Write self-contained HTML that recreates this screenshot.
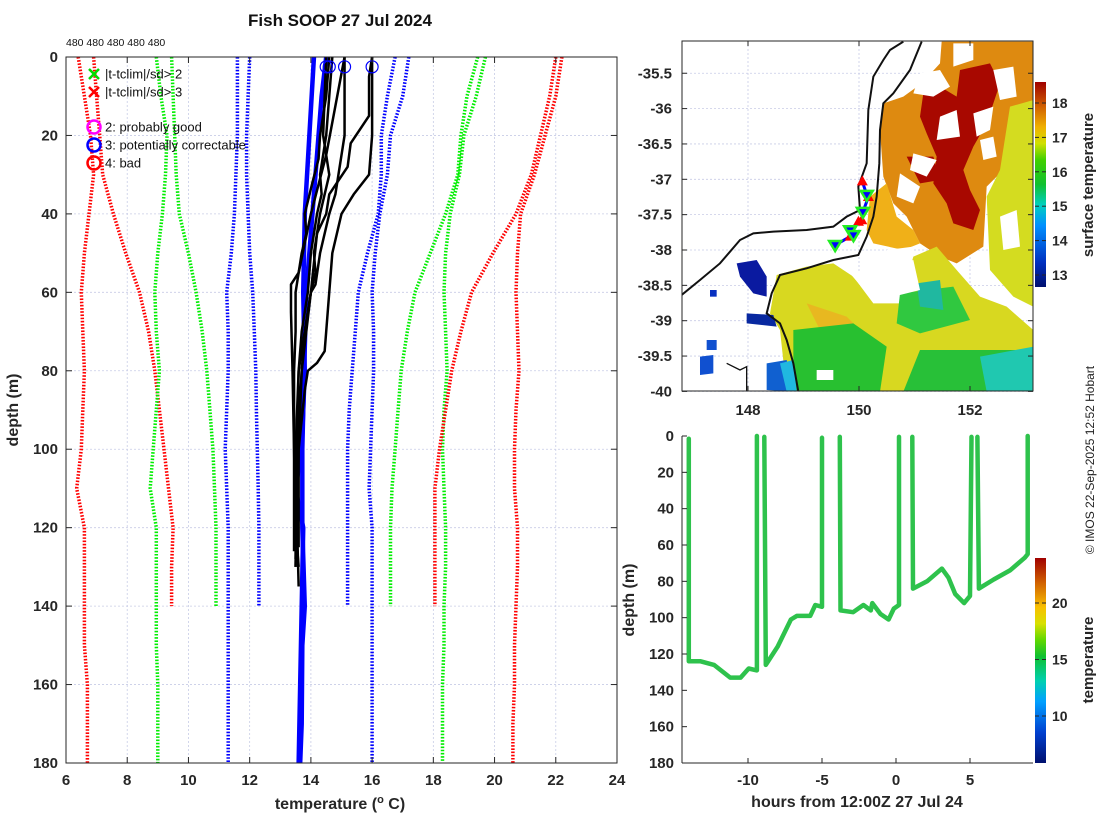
<!DOCTYPE html>
<html><head><meta charset="utf-8"><title>Fish SOOP 27 Jul 2024</title>
<style>
html,body{margin:0;padding:0;background:#fff;}
svg{display:block;font-family:"Liberation Sans","DejaVu Sans",sans-serif;}
.tk{font-size:15px;font-weight:bold;fill:#262626;}
.lab{font-size:16px;font-weight:bold;fill:#262626;}
</style></head>
<body>
<svg id="fig" width="1100" height="820" viewBox="0 0 1100 820" xmlns="http://www.w3.org/2000/svg">
<defs>
<clipPath id="clipL"><rect x="66" y="57" width="551" height="706"/></clipPath>
<clipPath id="clipM"><rect x="682" y="41" width="351" height="350"/></clipPath>
<clipPath id="clipB"><rect x="682" y="420" width="351" height="343"/></clipPath>
<linearGradient id="cb1" x1="0" y1="1" x2="0" y2="0">
<stop offset="0" stop-color="#00106e"/><stop offset="0.12" stop-color="#0030c0"/><stop offset="0.3" stop-color="#0090ff"/><stop offset="0.4" stop-color="#00d0c0"/><stop offset="0.5" stop-color="#10c030"/><stop offset="0.62" stop-color="#40d000"/><stop offset="0.7" stop-color="#d0e000"/><stop offset="0.78" stop-color="#f0b000"/><stop offset="0.88" stop-color="#d06000"/><stop offset="1" stop-color="#a00000"/>
</linearGradient>
<linearGradient id="cb2" x1="0" y1="1" x2="0" y2="0">
<stop offset="0" stop-color="#00106e"/><stop offset="0.15" stop-color="#0040d0"/><stop offset="0.3" stop-color="#00a0ff"/><stop offset="0.4" stop-color="#00d0b0"/><stop offset="0.52" stop-color="#10c030"/><stop offset="0.6" stop-color="#60d800"/><stop offset="0.68" stop-color="#d8e000"/><stop offset="0.76" stop-color="#f8c000"/><stop offset="0.88" stop-color="#d06000"/><stop offset="1" stop-color="#a00000"/>
</linearGradient>
</defs>

<text x="340" y="26" text-anchor="middle" style="font-size:17px;font-weight:bold;fill:#111">Fish SOOP 27 Jul 2024</text>
<text x="66" y="46" style="font-size:10.5px;fill:#111">480 480 480 480 480</text>

<g id="leftPlot"></g>
<g id="mapPlot"></g>
<g id="botPlot"></g>

<text transform="translate(1094,460) rotate(-90)" text-anchor="middle" style="font-size:12px;fill:#222">© IMOS 22-Sep-2025 12:52 Hobart</text>
</svg>

<script>
const NS='http://www.w3.org/2000/svg';
function mk(parent,tag,attrs,text){const e=document.createElementNS(NS,tag);for(const k in attrs)e.setAttribute(k,attrs[k]);if(text!==undefined)e.textContent=text;parent.appendChild(e);return e;}

// ===== Left plot data =====
const depthLevels=[0,10,20,30,40,50,60,70,80,90,100,110,120,130,140,150,160,170,180];
const tempTicks=[6,8,10,12,14,16,18,20,22,24];
const depthTicks=[0,20,40,60,80,100,120,140,160,180];
const redLa=[6.4,6.6,6.8,6.9,6.75,6.6,6.5,6.55,6.6,6.55,6.5,6.35,6.6,6.6,6.6,6.6,6.7,6.7,6.7];
const redLb=[6.9,7.0,7.1,7.2,7.55,7.95,8.4,8.7,8.9,9.05,9.2,9.35,9.5,9.45,9.45];
const greenLa=[8.95,9.1,9.3,9.25,9.15,9.0,8.9,8.95,9.05,8.95,8.85,8.75,8.95,8.95,8.95,8.95,9.0,9.0,9.0];
const greenLb=[9.45,9.5,9.55,9.6,9.7,10.0,10.25,10.45,10.6,10.7,10.8,10.85,10.9,10.9,10.9];
const blueLa=[11.6,11.6,11.6,11.55,11.5,11.4,11.25,11.3,11.3,11.25,11.2,11.25,11.3,11.3,11.3,11.3,11.3,11.3,11.3];
const blueLb=[12.0,11.95,11.9,11.9,11.95,12.0,12.1,12.15,12.2,12.22,12.25,12.28,12.3,12.3,12.3];
const blueRa=[16.75,16.5,16.3,16.3,16.2,15.85,15.55,15.45,15.35,15.25,15.2,15.2,15.2,15.2,15.2];
const blueRb=[17.2,17.0,16.6,16.5,16.25,16.1,16.0,16.05,16.05,16.0,15.95,15.9,16.0,16.0,16.0,16.0,16.0,16.0,16.0];
const greenRa=[19.45,19.1,18.9,18.8,18.4,17.9,17.4,17.15,16.95,16.85,16.75,16.65,16.6,16.6,16.6];
const greenRb=[19.7,19.4,19.0,18.85,18.55,18.4,18.35,18.4,18.45,18.35,18.3,18.35,18.4,18.4,18.35,18.35,18.3,18.3,18.3];
const redRa=[22.0,21.8,21.5,21.2,20.7,19.95,19.25,18.9,18.6,18.4,18.2,18.05,18.05,18.05,18.05];
const redRb=[22.2,22.0,21.65,21.3,20.85,20.75,20.7,20.75,20.8,20.7,20.65,20.65,20.75,20.75,20.7,20.65,20.65,20.6,20.6];
const blueP1Depth=[0,20,40,60,80,100,110,120,140,160,180];
const blueP1Temp=[14.1,13.95,13.8,13.75,13.8,13.7,13.5,13.75,13.7,13.65,13.6];
const blueP2Depth=[0,10,20,40,60,80,100,120,140,150,170,180];
const blueP2Temp=[14.5,14.35,14.25,14.05,13.85,13.78,13.72,13.72,13.8,13.72,13.7,13.65];
const blk1Depth=[0,10,20,26,32,40,45,50,60,70,80,100,120,128];
const blk1Temp=[14.6,14.5,14.3,14.25,14.05,13.8,13.85,13.7,13.5,13.5,13.45,13.45,13.5,13.5];
const blk2Depth=[0,10,20,30,35,40,50,58,60,70,80,100,120,130];
const blk2Temp=[15.1,15.1,15.1,14.9,14.8,14.6,14.3,14.15,14.0,13.8,13.6,13.5,13.5,13.6];
const blk3Depth=[0,5,15,22,28,35,40,45,60,80,100,125];
const blk3Temp=[16.0,15.9,15.9,15.3,15.2,14.6,14.5,14.2,14.0,13.7,13.6,13.6];
const blk4Depth=[0,8,20,30,35,40,50,60,70,75,78,80,85,100,120,135];
const blk4Temp=[16.0,16.0,16.0,15.9,15.4,15.0,14.7,14.6,14.5,14.45,14.2,13.9,13.8,13.6,13.55,13.6];
const blk5Depth=[0,20,30,35,40,50,60,70,80,100,130];
const blk5Temp=[14.7,14.5,14.3,14.35,14.2,14.0,13.9,13.7,13.6,13.55,13.5];
const blk6Depth=[0,20,30,40,50,55,60,70,80,100,130];
const blk6Temp=[14.5,14.4,14.6,14.3,14.1,14.15,14.0,13.8,13.7,13.55,13.5];
const blk7Depth=[0,25,40,55,58,65,80,100,126];
const blk7Temp=[15.1,14.5,14.0,13.6,13.35,13.35,13.4,13.45,13.45];
const startTemps=[14.5,14.6,15.1,16.0];

// ===== Map data =====
const lonTicks=[148,150,152];
const latTicks=[-35.5,-36,-36.5,-37,-37.5,-38,-38.5,-39,-39.5,-40];
const sstTicks=[13,14,15,16,17,18];
const shipUpLon=[150.06,150.17,150.05,149.99,149.84];
const shipUpLat=[-37.03,-37.25,-37.58,-37.6,-37.81];
const shipDownLon=[150.14,150.07,149.84,149.9,149.57];
const shipDownLat=[-37.22,-37.46,-37.72,-37.79,-37.93];

// ===== Bottom plot data =====
const trackHours=[-14.0,-14.0,-13.2,-12.3,-11.2,-10.5,-9.95,-9.4,-9.4,null,-8.9,-8.8,-8.0,-7.1,-6.7,-5.8,-5.45,-5.0,-5.0,null,-3.8,-3.75,-2.9,-2.2,-1.7,-1.6,-1.05,-0.5,-0.15,0.2,0.2,null,1.1,1.15,2.1,3.1,3.55,4.0,4.6,5.0,5.1,null,5.5,5.6,6.6,7.7,8.7,8.9,8.9];
const trackDepths=[1.5,124,124,126,133,133,128,129,0,null,0.5,126,116,101,99,99,93,94,1,null,0.5,96,97,93,96,92,98,101,95,93,0.5,null,0.5,84,80,73,78,87,92,88,0.5,null,0.5,84,79,74,67,65,0];
const hourTicks=[-10,-5,0,5];
const depthTicks2=[0,20,40,60,80,100,120,140,160,180];
const tempCbTicks=[10,15,20];

// ===== Left plot =====
(function(){
const g=document.getElementById('leftPlot');
const X0=66,X1=617,Y0=57,Y1=763;
const xs=t=>X0+(t-6)/(24-6)*(X1-X0);
const ys=d=>Y0+d/180*(Y1-Y0);
const grid=mk(g,'g',{});


tempTicks.forEach(t=>{if(t>6&&t<24)mk(grid,'line',{x1:xs(t),x2:xs(t),y1:Y0,y2:Y1,stroke:'#c8cce6','stroke-width':0.8,'stroke-dasharray':'2,2'});});
depthTicks.forEach(d=>{if(d>0&&d<180)mk(grid,'line',{x1:X0,x2:X1,y1:ys(d),y2:ys(d),stroke:'#c8cce6','stroke-width':0.8,'stroke-dasharray':'2,2'});});
const clim=mk(g,'g',{'clip-path':'url(#clipL)'});


const series=[['red-left-outer',redLa,'#ff0000'],['red-left-inner',redLb,'#ff0000'],['green-left-outer',greenLa,'#00ee00'],['green-left-inner',greenLb,'#00ee00'],['blue-left-outer',blueLa,'#0000ff'],['blue-left-inner',blueLb,'#0000ff'],['blue-right-inner',blueRa,'#0000ff'],['blue-right-outer',blueRb,'#0000ff'],['green-right-inner',greenRa,'#00ee00'],['green-right-outer',greenRb,'#00ee00'],['red-right-inner',redRa,'#ff0000'],['red-right-outer',redRb,'#ff0000']];
series.forEach(s=>{
 const pts=s[1].map((t,i)=>xs(t).toFixed(1)+','+ys(depthLevels[i]).toFixed(1)).join(' ');
 const p=mk(clim,'polyline',{points:pts,fill:'none',stroke:s[2],'stroke-width':3.5,'stroke-dasharray':'1.6,1.6'});
 
 
});
const prof=mk(g,'g',{'clip-path':'url(#clipL)'});


const blacks=[[blk1Depth,blk1Temp],[blk2Depth,blk2Temp],[blk3Depth,blk3Temp],[blk4Depth,blk4Temp],[blk5Depth,blk5Temp],[blk6Depth,blk6Temp],[blk7Depth,blk7Temp]];
[[blueP1Depth,blueP1Temp],[blueP2Depth,blueP2Temp]].forEach((b,k)=>{
 const p=mk(prof,'polyline',{points:b[1].map((t,i)=>xs(t)+','+ys(b[0][i])).join(' '),fill:'none',stroke:'#0000ff','stroke-width':4.5,'stroke-linejoin':'round'});
 
 
});
blacks.forEach((b,k)=>{
 const p=mk(prof,'polyline',{points:b[1].map((t,i)=>xs(t)+','+ys(b[0][i])).join(' '),fill:'none',stroke:'#000','stroke-width':2.5,'stroke-linejoin':'round'});
 
 
});
startTemps.forEach(t=>{
 const c=mk(g,'circle',{cx:xs(t),cy:ys(2.5),r:6,fill:'none',stroke:'#0000ff','stroke-width':1.2});
 
 
});
const ax=mk(g,'g',{});


mk(ax,'rect',{x:X0,y:Y0,width:X1-X0,height:Y1-Y0,fill:'none',stroke:'#262626','stroke-width':1});
tempTicks.forEach(t=>{
 mk(ax,'line',{x1:xs(t),x2:xs(t),y1:Y1,y2:Y1-6,stroke:'#262626'});
 mk(ax,'line',{x1:xs(t),x2:xs(t),y1:Y0,y2:Y0+6,stroke:'#262626'});
 const tx=mk(ax,'text',{x:xs(t),y:Y1+22,'text-anchor':'middle',class:'tk'},String(t));
 
 
});
depthTicks.forEach(d=>{
 mk(ax,'line',{x1:X0,x2:X0+6,y1:ys(d),y2:ys(d),stroke:'#262626'});
 mk(ax,'line',{x1:X1,x2:X1-6,y1:ys(d),y2:ys(d),stroke:'#262626'});
 const tx=mk(ax,'text',{x:X0-8,y:ys(d)+5,'text-anchor':'end',class:'tk'},String(d));
 
 
});
const xl=mk(g,'text',{x:340,y:809,'text-anchor':'middle',class:'lab'});
xl.innerHTML='temperature (<tspan dy="-6" style="font-size:11px">o</tspan><tspan dy="6"> C)</tspan>';


const yl=mk(g,'text',{transform:'translate(18,410) rotate(-90)','text-anchor':'middle',class:'lab'},'depth (m)');


const lg=mk(g,'g',{});


const items=[['x','#00dd00',74,'|t-tclim|/sd> 2'],['x','#ff0000',92,'|t-tclim|/sd> 3'],['o','#ff00ff',127,'2: probably good'],['o','#0000ff',145,'3: potentially correctable'],['o','#ff0000',163,'4: bad']];
items.forEach(it=>{
 const e=mk(lg,'g',{});
 
 
 if(it[0]==='x'){mk(e,'path',{d:`M89 ${it[2]-5}l10 10M99 ${it[2]-5}l-10 10`,stroke:it[1],'stroke-width':2.5});}
 else{mk(e,'circle',{cx:94,cy:it[2],r:6.5,fill:'none',stroke:it[1],'stroke-width':2.5});}
 mk(e,'text',{x:105,y:it[2]+4.5,style:'font-size:13px;fill:#111'},it[3]);
});
})();

// ===== Map =====
(function(){
const g=document.getElementById('mapPlot');
const X0=682,X1=1033,Y0=41,Y1=391;
const lx=lon=>748+(lon-148)*55.5;
const ly=lat=>179.3+(-37-lat)*70.7;
mk(g,'rect',{x:X0,y:Y0,width:X1-X0,height:Y1-Y0,fill:'#fff'});
const grid=mk(g,'g',{});


lonTicks.forEach(l=>mk(grid,'line',{x1:lx(l),x2:lx(l),y1:Y0,y2:Y1,stroke:'#c8cce6','stroke-width':0.8,'stroke-dasharray':'2,2'}));
latTicks.forEach(l=>mk(grid,'line',{x1:X0,x2:X1,y1:ly(l),y2:ly(l),stroke:'#c8cce6','stroke-width':0.8,'stroke-dasharray':'2,2'}));
const sst=mk(g,'g',{'clip-path':'url(#clipM)'});


const inner=mk(sst,'g',{transform:'translate(620,30) scale(0.33333)'});
const polys=[
['#de8a10','965,35 1240,35 1240,250 1180,280 1150,420 1100,470 1090,650 1010,700 960,680 900,640 860,560 820,520 790,440 780,300 790,220 850,200 905,160 960,100'],
['#f0b018','750,500 800,460 830,560 880,600 900,640 850,660 760,640 740,600'],
['#d4dc20','1170,230 1240,210 1240,830 1180,800 1110,720 1100,500 1140,420'],
['#a80800','1020,120 1110,100 1140,160 1100,280 1060,350 1030,420 1050,480 1080,540 1060,600 1000,580 980,520 940,460 950,380 920,310 900,260 910,190 960,170 1010,200'],
['#a80800','860,380 940,380 960,450 900,460'],
['#fff','960,260 1010,240 1020,320 950,330'],
['#fff','1060,250 1120,230 1110,300 1070,320'],
['#fff','880,370 950,390 920,440 870,420'],
['#fff','1000,40 1060,40 1060,90 1000,110'],
['#fff','900,130 960,120 990,170 940,200 880,190'],
['#fff','1120,120 1180,110 1190,200 1140,210'],
['#fff','1080,330 1120,320 1130,380 1090,390'],
['#fff','840,430 900,470 880,520 830,500'],
['#fff','1140,560 1190,540 1200,650 1150,660'],
['#d8d820','470,735 560,710 640,700 700,740 760,820 840,820 880,680 950,650 1010,720 1080,800 1160,830 1240,900 1240,1085 500,1085 480,900 450,850'],
['#e8b820','560,820 680,860 720,900 690,930 600,900'],
['#28c030','520,900 700,880 800,950 780,1085 520,1085'],
['#30c840','840,790 1000,770 1050,870 900,910 830,880'],
['#28c038','900,960 1240,960 1240,1085 850,1085'],
['#20c8b0','1080,980 1240,950 1240,1085 1100,1085'],
['#20b8a0','890,760 960,750 970,840 900,830'],
['#fff','590,1020 640,1020 640,1050 590,1050'],
['#fff','800,660 880,650 860,700 810,720'],
['#0a1aa0','350,700 410,690 440,740 440,800 400,790 360,740'],
['#0828a0','380,850 460,855 470,890 380,880'],
['#1060d0','440,1000 500,990 520,1085 440,1080'],
['#20b8e0','480,1000 520,990 530,1085 500,1085'],
['#1050d0','240,980 280,975 280,1030 240,1035'],
['#0830c0','270,780 290,780 290,800 270,800'],
['#1050d0','260,930 290,930 290,960 260,960'],
['#fff','690,730 880,690 900,780 820,800 750,800']
];
polys.forEach(p=>mk(inner,'polygon',{points:p[1],fill:p[0]}));
const coast1=mk(inner,'polyline',{points:'185,795 240,750 300,700 330,665 360,630 400,610 460,605 560,600 640,590 680,560 720,540 715,470 740,400 745,240 760,140 790,90 810,60 850,35',fill:'none',stroke:'#111','stroke-width':6});


const shelf=mk(inner,'polyline',{points:'905,35 870,120 820,190 790,220 780,300 778,400 770,500 760,560 740,620 715,675 640,690 560,715 480,735 455,790 440,850 480,880 500,930 520,1000 535,1085',fill:'none',stroke:'#111','stroke-width':6});


mk(inner,'polyline',{points:'320,1000 360,1020 380,1010 380,1085',fill:'none',stroke:'#111','stroke-width':4});
const trk=mk(g,'g',{'clip-path':'url(#clipM)'});


const allLon=shipUpLon.concat(shipDownLon), allLat=shipUpLat.concat(shipDownLat);
const order=allLat.map((v,i)=>i).sort((a,b)=>allLat[b]-allLat[a]);
mk(trk,'polyline',{points:order.map(i=>lx(allLon[i])+','+ly(allLat[i])).join(' '),fill:'none',stroke:'#0000ff','stroke-width':3});
shipUpLon.forEach((lo,i)=>{const x=lx(lo),y=ly(shipUpLat[i]);
 const t=mk(trk,'polygon',{points:`${x},${y-6} ${x-5.5},${y+4} ${x+5.5},${y+4}`,fill:'#ff0000'});
 
 });
shipDownLon.forEach((lo,i)=>{const x=lx(lo),y=ly(shipDownLat[i]);
 const t=mk(trk,'polygon',{points:`${x-6},${y-4} ${x+6},${y-4} ${x},${y+6}`,fill:'#0000ff',stroke:'#22ee22','stroke-width':2.5});
 
 });
const ax=mk(g,'g',{});


mk(ax,'rect',{x:X0,y:Y0,width:X1-X0,height:Y1-Y0,fill:'none',stroke:'#262626'});
lonTicks.forEach(l=>{mk(ax,'line',{x1:lx(l),x2:lx(l),y1:Y1,y2:Y1-5,stroke:'#262626'});mk(ax,'line',{x1:lx(l),x2:lx(l),y1:Y0,y2:Y0+5,stroke:'#262626'});
 const t=mk(ax,'text',{x:lx(l),y:Y1+24,'text-anchor':'middle',class:'tk'},String(l));
 
 });
latTicks.forEach(l=>{mk(ax,'line',{x1:X0,x2:X0+5,y1:ly(l),y2:ly(l),stroke:'#262626'});mk(ax,'line',{x1:X1,x2:X1-5,y1:ly(l),y2:ly(l),stroke:'#262626'});
 const t=mk(ax,'text',{x:X0-10,y:ly(l)+5,'text-anchor':'end',class:'tk'},String(l));
 
 });
const cb=mk(g,'g',{});


const cy=v=>275-(v-13)*34.4;
mk(cb,'rect',{x:1035,y:82,width:11,height:205,fill:'url(#cb1)'});
sstTicks.forEach(v=>{mk(cb,'line',{x1:1035,x2:1039,y1:cy(v),y2:cy(v),stroke:'#262626'});mk(cb,'line',{x1:1046,x2:1042,y1:cy(v),y2:cy(v),stroke:'#262626'});
 mk(cb,'text',{x:1052,y:cy(v)+5,class:'tk',style:'font-size:14px'},String(v));});
const cl=mk(g,'text',{transform:'translate(1093,185) rotate(-90)','text-anchor':'middle',class:'lab',style:'font-size:15px'},'surface temperature');


})();

// ===== Bottom plot =====
(function(){
const g=document.getElementById('botPlot');
const X0=682,X1=1033,Y0=436,Y1=763;
const xs=h=>896+h*14.8;
const ys=d=>Y0+d/180*(Y1-Y0);
const trk=mk(g,'g',{'clip-path':'url(#clipB)'});


let seg=[];const segs=[];
trackHours.forEach((h,i)=>{if(h===null){segs.push(seg);seg=[];}else seg.push(xs(h).toFixed(1)+','+ys(trackDepths[i]).toFixed(1));});
segs.push(seg);
segs.forEach(s=>{const p=mk(trk,'polyline',{points:s.join(' '),fill:'none',stroke:'#2ec24c','stroke-width':4.5,'stroke-linejoin':'round','stroke-linecap':'round'});
 
 });
const ax=mk(g,'g',{});


mk(ax,'line',{x1:X0,x2:X0,y1:Y0,y2:Y1,stroke:'#262626'});
mk(ax,'line',{x1:X0,x2:X1,y1:Y1,y2:Y1,stroke:'#262626'});
hourTicks.forEach(h=>{mk(ax,'line',{x1:xs(h),x2:xs(h),y1:Y1,y2:Y1-5,stroke:'#262626'});
 const t=mk(ax,'text',{x:xs(h),y:Y1+22,'text-anchor':'middle',class:'tk'},String(h));
 
 });
depthTicks2.forEach(d=>{mk(ax,'line',{x1:X0,x2:X0+5,y1:ys(d),y2:ys(d),stroke:'#262626'});
 const t=mk(ax,'text',{x:X0-8,y:ys(d)+5,'text-anchor':'end',class:'tk'},String(d));
 
 });
const xl=mk(g,'text',{x:857,y:807,'text-anchor':'middle',class:'lab'},'hours from 12:00Z 27 Jul 24');


const yl=mk(g,'text',{transform:'translate(634,600) rotate(-90)','text-anchor':'middle',class:'lab'},'depth (m)');


const cb=mk(g,'g',{});


const cy=v=>716-(v-10)*11.3;
mk(cb,'rect',{x:1035,y:558,width:11,height:205,fill:'url(#cb2)'});
tempCbTicks.forEach(v=>{mk(cb,'line',{x1:1035,x2:1039,y1:cy(v),y2:cy(v),stroke:'#262626'});mk(cb,'line',{x1:1046,x2:1042,y1:cy(v),y2:cy(v),stroke:'#262626'});
 mk(cb,'text',{x:1052,y:cy(v)+5,class:'tk',style:'font-size:14px'},String(v));});
const cl=mk(g,'text',{transform:'translate(1093,660) rotate(-90)','text-anchor':'middle',class:'lab',style:'font-size:15px'},'temperature');


})();
</script>
</body></html>
